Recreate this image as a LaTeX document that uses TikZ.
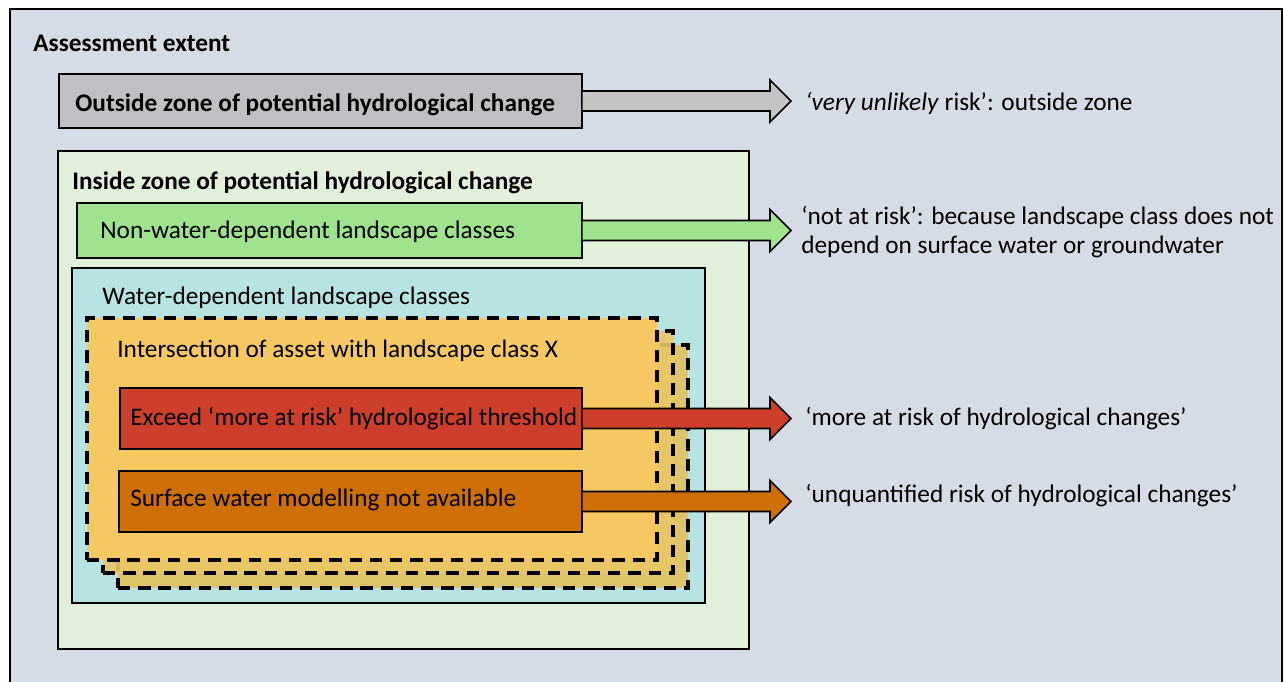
\documentclass[tikz,border=0pt]{standalone}
\usepackage{fontspec}
\setmainfont{Carlito}
\usetikzlibrary{positioning,calc,fit,backgrounds}

\definecolor{extentbg}{HTML}{D6DCE5}
\definecolor{outsidegray}{HTML}{C0BFC3}
\definecolor{arrowgray}{HTML}{C4C4C4}
\definecolor{insidegreen}{HTML}{E2EFDA}
\definecolor{drygreen}{HTML}{A0E38F}
\definecolor{wetteal}{HTML}{B8E3E3}
\definecolor{patchfront}{HTML}{F6C864}
\definecolor{patchmid}{HTML}{EAC766}
\definecolor{patchback}{HTML}{DEC46A}
\definecolor{riskred}{HTML}{CD3F2B}
\definecolor{riskorange}{HTML}{CE6F08}

% block arrow from a box to the tip column
\newcommand{\bigarrow}[2]{%
  \draw[fatarrow, fill=#2] ($(#1.east)+(0,-10)$) -- ($(#1.east -| tipcol)+(-21,-10)$)
    -- ($(#1.east -| tipcol)+(-21,-21)$) -- (#1.east -| tipcol)
    -- ($(#1.east -| tipcol)+(-21,21)$) -- ($(#1.east -| tipcol)+(-21,10)$)
    -- ($(#1.east)+(0,10)$);}

\begin{document}
\begin{tikzpicture}[x=0.02cm, y=-0.02cm,
    every node/.style={font=\fontsize{14.4}{16.5}\selectfont},
    zone/.style={draw, line width=0.8pt, inner sep=0pt},
    patch/.style={draw=black, line width=1.8pt, dash pattern=on 7pt off 4.5pt, inner sep=0pt},
    title/.style={anchor=west, inner sep=0pt, font=\fontsize{14.4}{16.5}\selectfont\bfseries},
    boxtext/.style={anchor=west, inner sep=0pt},
    outcome/.style={anchor=west, inner sep=0pt, align=left},
    fatarrow/.style={draw=black, line width=0.9pt, line join=miter},
]
    \useasboundingbox (0,0) rectangle (1284,681);

    % === ASSESSMENT EXTENT ===
    \node[zone, fill=extentbg, fit={(10,9) (1282,700)}] (extent) {};
    \node[title] (extenttitle) at (33,43) {Assessment extent};

    % === OUTSIDE ZONE ===
    \node[zone, fill=outsidegray, fit={(59,74) (582,128)}] (outbox) {};
    \node[title] (outtitle) at (75,105) {Outside zone of potential hydrological change};

    % === INSIDE ZONE ===
    \node[zone, fill=insidegreen, fit={(58,151) (749,649)}] (inbox) {};
    \node[title] (intitle) at (72,183) {Inside zone of potential hydrological change};

    \node[zone, fill=drygreen, fit={(77,203) (582,258)}] (drybox) {};
    \node[boxtext] (drytitle) at (100,232) {Non-water-dependent landscape classes};

    \node[zone, fill=wetteal, fit={(72,268) (705,603)}] (wetbox) {};
    \node[boxtext] (wettitle) at (102,298) {Water-dependent landscape classes};

    % stacked asset patches, back to front
    \node[patch, fill=patchback, fit={(118,345) (688,588)}] (patchc) {};
    \node[patch, fill=patchmid, fill opacity=0.9, fit={(103,331) (673,573)}] (patchb) {};
    \node[patch, fill=patchfront, fit={(87,318) (657,560)}] (patcha) {};
    \node[boxtext] (patchtitle) at (117,351) {Intersection of asset with landscape class X};

    \node[zone, fill=riskred, fit={(120,388) (582,449)}] (redbox) {};
    \node[boxtext] (redtitle) at (130,419) {Exceed ‘more at risk’ hydrological threshold};

    \node[zone, fill=riskorange, fit={(119,471) (582,532)}] (orangebox) {};
    \node[boxtext] (orangetitle) at (130,500) {Surface water modelling not available};

    % === OUTCOMES ===
    \node[outcome] (veryunlikely) at (805,103) {\textit{‘very unlikely} risk’: outside zone};
    \node[outcome] (notatrisk) at (801,232) {‘not at risk’: because landscape class does not\\depend on surface water or groundwater};
    \node[outcome] (moreatrisk) at (805,419) {‘more at risk of hydrological changes’};
    \node[outcome] (unquantified) at (805,496) {‘unquantified risk of hydrological changes’};

    % === ARROWS ===
    \coordinate (tipcol) at (791,0);
    \bigarrow{outbox}{arrowgray}
    \bigarrow{drybox}{drygreen}
    \bigarrow{redbox}{riskred}
    \bigarrow{orangebox}{riskorange}
\end{tikzpicture}
\end{document}
